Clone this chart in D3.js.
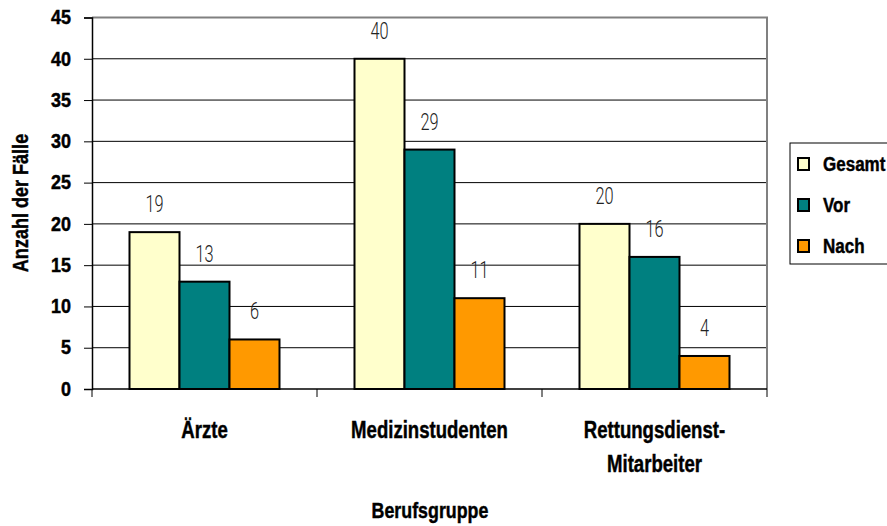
<!DOCTYPE html>
<html>
<head>
<meta charset="utf-8">
<script src="https://cdn.jsdelivr.net/npm/d3@7/dist/d3.min.js"></script>
<style>
  html, body { margin: 0; padding: 0; background: #fff; }
  svg { display: block; }
  .bold { font-family: "Liberation Sans", Arial, sans-serif; font-weight: bold; fill: #000; stroke: #000; stroke-width: 0.45px; }
  .light { font-family: Roboto, "Open Sans", sans-serif; font-weight: 300; fill: #222; }
</style>
</head>
<body>
<svg id="chart" width="887" height="526"></svg>
<script>
// Berufsgruppen und Fallzahlen
const categories = ["Ärzte", "Medizinstudenten", "Rettungsdienst-\nMitarbeiter"];
const seriesNames = ["Gesamt", "Vor", "Nach"];
const gesamt = [19, 40, 20];
const vor = [13, 29, 16];
const nach = [6, 11, 4];
const yTicks = [0, 5, 10, 15, 20, 25, 30, 35, 40, 45];
const colors = ["#FFFFCC", "#008080", "#FF9900"];

const seriesValues = [gesamt, vor, nach];
const rows = categories.map((c, i) => ({
  cat: c,
  values: seriesNames.map((s, j) => ({ series: s, value: seriesValues[j][i] }))
}));

// squeeze glyphs horizontally to get a condensed face
function condense(sel, k) {
  sel.each(function () {
    const w = this.getComputedTextLength();
    d3.select(this).attr("textLength", w * k).attr("lengthAdjust", "spacingAndGlyphs");
  });
}

const svg = d3.select("#chart");
const plot = { left: 92, right: 767, top: 17.5, bottom: 389 };

const x = d3.scaleBand().domain(categories).range([plot.left, plot.right]).padding(0);
const xs = d3.scaleBand().domain(seriesNames).range([0, x.bandwidth()])
  .paddingInner(0).paddingOuter(0.75);
const y = d3.scaleLinear().domain([0, 45]).range([plot.bottom, plot.top]);
const color = d3.scaleOrdinal().domain(seriesNames).range(colors);

// horizontal grid lines
svg.append("g")
  .selectAll("line")
  .data(yTicks.filter(t => t > 0 && t < 45))
  .join("line")
  .attr("x1", plot.left).attr("x2", plot.right)
  .attr("y1", d => y(d)).attr("y2", d => y(d))
  .attr("stroke", "#000").attr("stroke-width", 1);

// plot frame (top and right)
svg.append("path")
  .attr("d", `M${plot.left},${y(45)}H${plot.right}V${plot.bottom}`)
  .attr("fill", "none").attr("stroke", "#808080").attr("stroke-width", 2);

// y axis
const yAxis = d3.axisLeft(y).tickValues(yTicks).tickSize(8).tickPadding(13);
const gy = svg.append("g").attr("transform", `translate(${plot.left},0)`).call(yAxis);
gy.select(".domain").attr("stroke", "#000").attr("stroke-width", 1.5);
gy.selectAll(".tick line").attr("stroke", "#000");
gy.selectAll(".tick text")
  .attr("class", "bold").attr("font-family", null)
  .attr("font-size", 19.5).attr("fill", "#000");
condense(gy.selectAll(".tick text"), 0.92);

// bars
const groups = svg.append("g")
  .selectAll("g")
  .data(rows)
  .join("g")
  .attr("transform", d => `translate(${x(d.cat)},0)`);

groups.selectAll("rect")
  .data(d => d.values)
  .join("rect")
  .attr("x", d => xs(d.series))
  .attr("width", xs.bandwidth())
  .attr("y", d => y(d.value))
  .attr("height", d => y(0) - y(d.value))
  .attr("fill", d => color(d.series))
  .attr("stroke", "#000").attr("stroke-width", 2);

// value labels
const vals = groups.selectAll("text.val")
  .data(d => d.values)
  .join("text")
  .attr("class", "val light")
  .attr("x", d => xs(d.series) + xs.bandwidth() / 2)
  .attr("y", d => y(d.value) - 20)
  .attr("text-anchor", "middle")
  .attr("font-size", 24)
  .text(d => d.value);
condense(vals, 0.68);

// x axis line with ticks at category boundaries
svg.append("line")
  .attr("x1", plot.left).attr("x2", plot.right)
  .attr("y1", plot.bottom).attr("y2", plot.bottom)
  .attr("stroke", "#000").attr("stroke-width", 1.5);
svg.append("g")
  .selectAll("line")
  .data(categories.map(c => x(c)).concat([plot.right]))
  .join("line")
  .attr("x1", d => d).attr("x2", d => d)
  .attr("y1", plot.bottom).attr("y2", plot.bottom + 8)
  .attr("stroke", "#000");

// category labels, one text per line
const catLines = categories.flatMap(c =>
  c.split("\n").map((l, i) => ({ cat: c, line: l, i })));
const catText = svg.append("g")
  .selectAll("text")
  .data(catLines)
  .join("text")
  .attr("class", "bold")
  .attr("text-anchor", "middle")
  .attr("font-size", 23.5)
  .attr("x", d => x(d.cat) + x.bandwidth() / 2)
  .attr("y", d => 438 + d.i * 34)
  .text(d => d.line);
condense(catText, 0.79);

// axis titles
const xTitle = svg.append("text")
  .attr("class", "bold")
  .attr("text-anchor", "middle")
  .attr("font-size", 22)
  .attr("x", 430).attr("y", 518)
  .text("Berufsgruppe");
condense(xTitle, 0.81);

const yTitle = svg.append("text")
  .attr("class", "bold")
  .attr("text-anchor", "middle")
  .attr("font-size", 22)
  .attr("transform", "translate(28,203) rotate(-90)")
  .text("Anzahl der Fälle");
condense(yTitle, 0.82);

// legend
const legend = svg.append("g").attr("transform", "translate(790,143)");
legend.append("rect")
  .attr("x", 0).attr("y", 0).attr("width", 120).attr("height", 121)
  .attr("fill", "#fff").attr("stroke", "#000").attr("stroke-width", 1);
const items = legend.selectAll("g.item")
  .data(seriesNames)
  .join("g")
  .attr("class", "item")
  .attr("transform", (d, i) => `translate(0,${28 + i * 41})`);
items.append("rect")
  .attr("x", 8).attr("y", -13).attr("width", 11).attr("height", 12)
  .attr("fill", d => color(d)).attr("stroke", "#000").attr("stroke-width", 2);
const legText = items.append("text")
  .attr("class", "bold")
  .attr("x", 33).attr("y", 0)
  .attr("font-size", 20)
  .text(d => d);
condense(legText, 0.85);
</script>
</body>
</html>
